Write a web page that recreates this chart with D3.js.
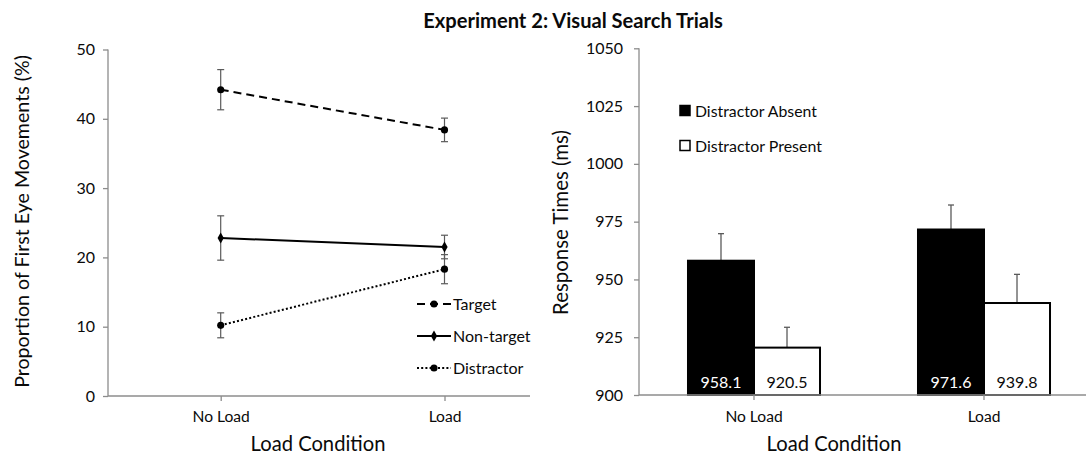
<!DOCTYPE html>
<html><head><meta charset="utf-8">
<script src="https://cdn.jsdelivr.net/npm/d3@7"></script>
<style>
html,body{margin:0;padding:0;background:#fff;}
svg{display:block;font-family:Lato,"Open Sans",sans-serif;}
</style></head>
<body>
<svg id="c" width="1086" height="456"></svg>
<script>
// ---------- data ----------
const categories = ["No Load", "Load"];
const lineSeries = ["Target", "Non-target", "Distractor"];
const targetVals = [44.2, 38.4];
const targetErr = [2.9, 1.7];
const nontargetVals = [22.8, 21.5];
const nontargetErr = [3.2, 1.7];
const distractorVals = [10.2, 18.3];
const distractorErr = [1.8, 2.1];
const leftTicks = [0, 10, 20, 30, 40, 50];

const barSeries = ["Distractor Absent", "Distractor Present"];
const absentVals = [958.1, 971.6];
const absentErr = [11.7, 10.6];
const presentVals = [920.5, 939.8];
const presentErr = [8.8, 12.4];
const rightTicks = [900, 925, 950, 975, 1000, 1025, 1050];

const svg = d3.select("#c");
const axisGrey = "#8c8c8c";
const errGrey = "#5a5a5a";
const ink = "#0a0a0a";
const FONT = "Lato, 'Open Sans', sans-serif";

// scale a text's font size so that it spans the wanted width
function fit(sel, width) {
  sel.each(function () {
    const len = this.getComputedTextLength();
    const fs = parseFloat(d3.select(this).attr("font-size"));
    if (len > 0) d3.select(this).attr("font-size", fs * width / len);
  });
  return sel;
}

// title
fit(svg.append("text").attr("x", 573).attr("y", 28).attr("text-anchor", "middle")
  .attr("font-weight", "bold").attr("font-size", 16.5).attr("fill", ink)
  .text("Experiment 2: Visual Search Trials"), 300);

// ---------- left chart ----------
const yL = d3.scaleLinear().domain([0, 50]).range([396, 49.5]);
const xL = d3.scalePoint().domain(categories).range([220.7, 444.5]);

const gL = svg.append("g");
const yAxisL = gL.append("g").attr("transform", "translate(108,0)")
  .call(d3.axisLeft(yL).tickValues(leftTicks).tickSize(5).tickPadding(8).tickFormat(d3.format("d")));
yAxisL.select(".domain").remove();
yAxisL.append("line").attr("x1", 0).attr("x2", 0).attr("y1", yL(0)).attr("y2", yL(50)).attr("stroke", axisGrey).attr("stroke-width", 1.3);
yAxisL.selectAll(".tick line").attr("stroke", axisGrey).attr("stroke-width", 1.3);
yAxisL.selectAll(".tick text").attr("font-size", 16).attr("font-family", FONT).attr("fill", ink);

const xAxisL = gL.append("g").attr("transform", `translate(0,${yL(0)})`)
  .call(d3.axisBottom(xL).tickSize(5).tickPadding(10));
xAxisL.select(".domain").remove();
xAxisL.append("line").attr("x1", 108).attr("x2", 530).attr("y1", 0).attr("y2", 0).attr("stroke", axisGrey).attr("stroke-width", 1.3);
xAxisL.selectAll(".tick line").attr("stroke", axisGrey).attr("stroke-width", 1.3);
xAxisL.selectAll(".tick text").attr("font-size", 15.6).attr("font-family", FONT).attr("fill", ink);

fit(gL.append("text").attr("x", 318).attr("y", 451).attr("text-anchor", "middle")
  .attr("font-size", 19.5).attr("fill", ink).text("Load Condition"), 135);
fit(gL.append("text").attr("transform", "translate(29,221.5) rotate(-90)").attr("text-anchor", "middle")
  .attr("font-size", 16.5).attr("fill", ink).text("Proportion of First Eye Movements (%)"), 333);

const lineData = [
  { name: lineSeries[0], vals: targetVals, err: targetErr, dash: "8,5", marker: "circle" },
  { name: lineSeries[1], vals: nontargetVals, err: nontargetErr, dash: null, marker: "diamond" },
  { name: lineSeries[2], vals: distractorVals, err: distractorErr, dash: "2,2.2", marker: "circle" }
];
const line = d3.line().x((d, i) => xL(categories[i])).y(d => yL(d));
const sym = {
  circle: d3.symbol().type(d3.symbolCircle).size(40),
  diamond: d3.symbol().type(d3.symbolDiamond).size(34)
};

lineData.forEach(s => {
  const g = gL.append("g");
  s.vals.forEach((v, i) => {
    const x = xL(categories[i]);
    g.append("line").attr("x1", x).attr("x2", x).attr("y1", yL(v - s.err[i])).attr("y2", yL(v + s.err[i]))
      .attr("stroke", errGrey).attr("stroke-width", 1.2);
    [v - s.err[i], v + s.err[i]].forEach(e => {
      g.append("line").attr("x1", x - 3.5).attr("x2", x + 3.5).attr("y1", yL(e)).attr("y2", yL(e))
        .attr("stroke", errGrey).attr("stroke-width", 1.2);
    });
  });
  g.append("path").attr("d", line(s.vals)).attr("fill", "none").attr("stroke", "#000")
    .attr("stroke-width", 2).attr("stroke-dasharray", s.dash);
  s.vals.forEach((v, i) => {
    g.append("path").attr("d", sym[s.marker]()).attr("transform", `translate(${xL(categories[i])},${yL(v)})`).attr("fill", "#000");
  });
});

// left legend
const legL = gL.append("g");
lineData.forEach((s, i) => {
  const y = 304 + i * 32;
  legL.append("line").attr("x1", 417).attr("x2", 451).attr("y1", y).attr("y2", y)
    .attr("stroke", "#000").attr("stroke-width", 2).attr("stroke-dasharray", s.dash);
  legL.append("path").attr("d", sym[s.marker]()).attr("transform", `translate(434,${y})`).attr("fill", "#000");
  legL.append("text").attr("x", 453).attr("y", y).attr("dy", "0.35em").attr("font-size", 16).attr("fill", ink).text(s.name);
});

// ---------- right chart ----------
const yR = d3.scaleLinear().domain([900, 1050]).range([395, 48.3]);
const xR = d3.scaleBand().domain(categories).range([639, 1099]).paddingInner(0.426).paddingOuter(0.213);
const xSub = d3.scaleBand().domain(barSeries).range([0, xR.bandwidth()]);

const gR = svg.append("g");
const yAxisR = gR.append("g").attr("transform", "translate(639,0)")
  .call(d3.axisLeft(yR).tickValues(rightTicks).tickSize(5).tickPadding(11).tickFormat(d3.format("d")));
yAxisR.select(".domain").remove();
yAxisR.append("line").attr("x1", 0).attr("x2", 0).attr("y1", yR(900)).attr("y2", yR(1050)).attr("stroke", axisGrey).attr("stroke-width", 1.3);
yAxisR.selectAll(".tick line").attr("stroke", axisGrey).attr("stroke-width", 1.3);
yAxisR.selectAll(".tick text").attr("font-size", 16).attr("font-family", FONT).attr("fill", ink);

const barData = [
  { name: barSeries[0], vals: absentVals, err: absentErr, fill: "#000", text: "#fff" },
  { name: barSeries[1], vals: presentVals, err: presentErr, fill: "#fff", text: ink }
];

barData.forEach(s => {
  s.vals.forEach((v, i) => {
    const x0 = xR(categories[i]) + xSub(s.name);
    const w = xSub.bandwidth();
    const cx = x0 + w / 2;
    gR.append("line").attr("x1", cx).attr("x2", cx).attr("y1", yR(v)).attr("y2", yR(v + s.err[i]))
      .attr("stroke", errGrey).attr("stroke-width", 1.3);
    gR.append("line").attr("x1", cx - 3).attr("x2", cx + 3).attr("y1", yR(v + s.err[i])).attr("y2", yR(v + s.err[i]))
      .attr("stroke", errGrey).attr("stroke-width", 1.3);
    gR.append("rect").attr("x", x0).attr("y", yR(v)).attr("width", w).attr("height", yR(900) - yR(v))
      .attr("fill", s.fill).attr("stroke", "#000").attr("stroke-width", 2);
    gR.append("text").attr("x", cx).attr("y", 382).attr("dy", "0.35em").attr("text-anchor", "middle")
      .attr("font-size", 16).attr("fill", s.text).text(d3.format(".1f")(v));
  });
});

const xAxisR = gR.append("g").attr("transform", `translate(0,${yR(900)})`)
  .call(d3.axisBottom(xR).tickSize(5).tickPadding(11));
xAxisR.select(".domain").remove();
xAxisR.append("line").attr("x1", 639).attr("x2", 1086).attr("y1", 0).attr("y2", 0).attr("stroke", axisGrey).attr("stroke-width", 1.3);
xAxisR.selectAll(".tick line").attr("stroke", axisGrey).attr("stroke-width", 1.3);
xAxisR.selectAll(".tick text").attr("font-size", 15.6).attr("font-family", FONT).attr("fill", ink);

fit(gR.append("text").attr("x", 834).attr("y", 451).attr("text-anchor", "middle")
  .attr("font-size", 19.5).attr("fill", ink).text("Load Condition"), 135);
fit(gR.append("text").attr("transform", "translate(568,222.5) rotate(-90)").attr("text-anchor", "middle")
  .attr("font-size", 18.5).attr("fill", ink).text("Response Times (ms)"), 185);

// right legend
barData.forEach((s, i) => {
  const y = 111 + i * 35;
  gR.append("rect").attr("x", 680).attr("y", y - 5.5).attr("width", 10).attr("height", 10)
    .attr("fill", s.fill).attr("stroke", "#000").attr("stroke-width", 1.5);
  fit(gR.append("text").attr("x", 695).attr("y", y).attr("dy", "0.35em").attr("font-size", 15).attr("fill", ink).text(s.name), i === 0 ? 122 : 127);
});
</script>
</body></html>
